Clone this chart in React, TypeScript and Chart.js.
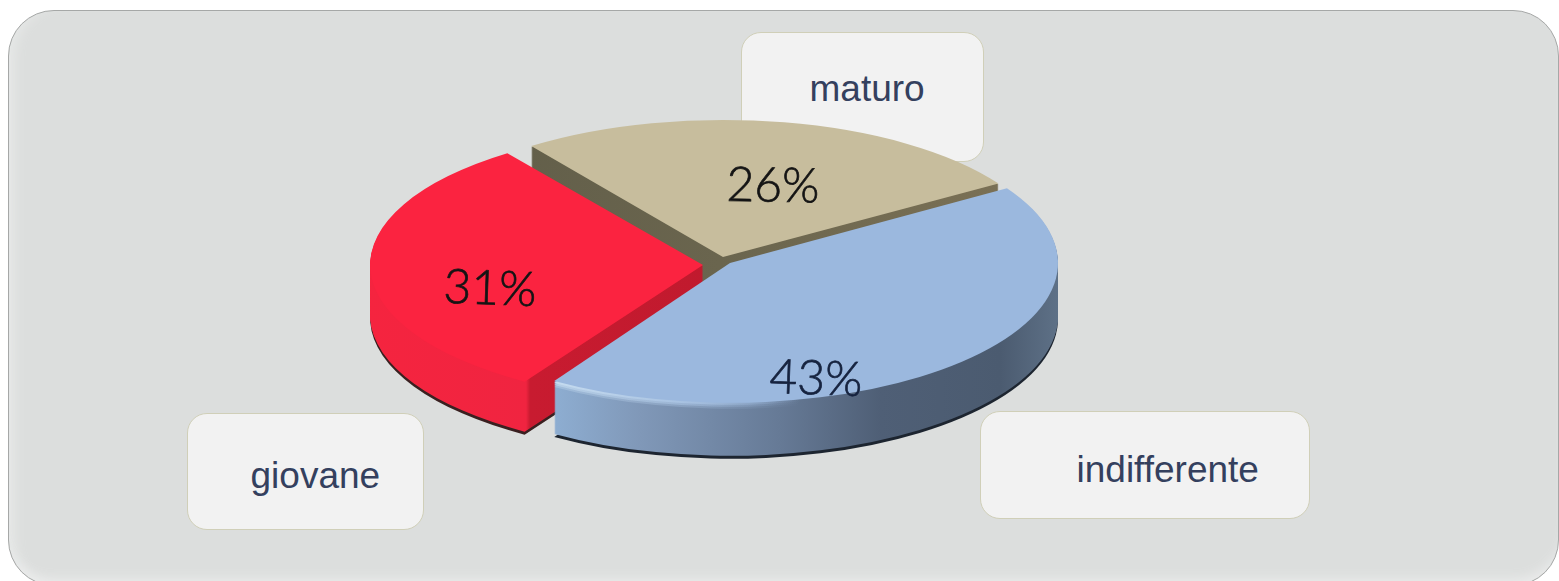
import React, { useEffect, useRef } from "react";
import { Chart, registerables } from "chart.js";

Chart.register(...registerables);

const categories = ["maturo", "indifferente", "giovane"];
const shares = [26, 43, 31];
const topColors = ["#c7bd9d", "#9bb8de", "#fb2340"];

const PIE = { cx: 722, cy: 260, radius: 328, rotation: -36 };
const sliceShift = [[1, -3], [8, 3], [-19, 5]];
const sliceScale = [0.995, 1.0, 1.015];
const sliceSquash = [0.42, 0.426, 0.415];
const sliceDepth = [50, 53, 50];
const percentSpots = [
  { x: 773, y: 186, tilt: 1 },
  { x: 816, y: 379, tilt: 2 },
  { x: 490, y: 289, tilt: 2 },
];
const boxes = [
  { left: 741, top: 32, width: 243, height: 130, textX: 69, base: 69 },
  { left: 980, top: 411, width: 330, height: 108, textX: 97, base: 71 },
  { left: 187, top: 413, width: 237, height: 117, textX: 64, base: 75 },
];

const wallStops: [number, string][][] = [
  [[400, "#5f5c48"], [720, "#6a654e"], [1000, "#7a7055"]],
  [[552, "#8eaed2"], [640, "#8098b8"], [780, "#667a96"], [880, "#4f5f76"], [1000, "#4b5b70"], [1062, "#5f7288"]],
  [[370, "#f5243f"], [526, "#f02440"], [530, "#c81b30"], [710, "#c01a2e"]],
];
const rimColors = ["#6a654e", "#1d2530", "#3a2020"];

function withFill(arc: any, fill: any, draw: () => void) {
  const saved = arc.options;
  arc.options = Object.assign(Object.create(saved), { backgroundColor: fill, borderWidth: 0 });
  draw();
  arc.options = saved;
}

const pie3d = {
  id: "pie3d",
  beforeDatasetsDraw(chart: any) {
    const ctx: CanvasRenderingContext2D = chart.ctx;
    const arcs = chart.getDatasetMeta(0).data;
    const place = (arc: any, i: number, dy: number) => {
      ctx.translate(PIE.cx + sliceShift[i][0], PIE.cy + sliceShift[i][1] + dy);
      ctx.scale(sliceScale[i], sliceSquash[i] * sliceScale[i]);
      ctx.translate(-arc.x, -arc.y);
    };
    const toArc = (arc: any, i: number, px: number) =>
      (px - PIE.cx - sliceShift[i][0]) / sliceScale[i] + arc.x;
    [0, 2, 1].forEach((i) => {
      const arc = arcs[i];
      ctx.save();
      place(arc, i, sliceDepth[i] + 3);
      withFill(arc, rimColors[i], () => arc.draw(ctx));
      ctx.restore();
      const fill = ctx.createLinearGradient(toArc(arc, i, 360), 0, toArc(arc, i, 1070), 0);
      wallStops[i].forEach(([px, c]) => fill.addColorStop((px - 360) / 710, c));
      for (let dy = sliceDepth[i]; dy >= 1; dy--) {
        ctx.save();
        place(arc, i, dy);
        withFill(arc, fill, () => arc.draw(ctx));
        ctx.restore();
      }
      if (i === 1) {
        [[6, 0.35], [4, 0.6], [2, 1]].forEach(([dy, alpha]) => {
          const g = ctx.createLinearGradient(toArc(arc, i, 552), 0, toArc(arc, i, 800), 0);
          g.addColorStop(0, "#c6dcf0");
          g.addColorStop(0.5, "#a9c3e2");
          g.addColorStop(1, "rgba(155,184,222,0)");
          ctx.save();
          ctx.globalAlpha = alpha;
          place(arc, i, dy);
          withFill(arc, g, () => arc.draw(ctx));
          ctx.restore();
        });
      }
      ctx.save();
      place(arc, i, 0);
      arc.draw(ctx);
      ctx.restore();
    });
    return false;
  },
  afterDraw(chart: any) {
    const ctx: CanvasRenderingContext2D = chart.ctx;
    ctx.save();
    ctx.font = "300 48px Lato";
    ctx.textAlign = "center";
    ctx.textBaseline = "middle";
    ctx.lineWidth = 0.7;
    shares.forEach((v, i) => {
      const s = percentSpots[i];
      ctx.save();
      ctx.translate(s.x, s.y);
      ctx.rotate((s.tilt * Math.PI) / 180);
      const ink = i === 1 ? "#16233f" : "#141414";
      ctx.fillStyle = ink;
      ctx.strokeStyle = ink;
      ctx.fillText(`${v}%`, 0, 0);
      ctx.strokeText(`${v}%`, 0, 0);
      ctx.restore();
    });
    ctx.restore();
  },
};

export default function App() {
  const ref = useRef<HTMLCanvasElement>(null);
  useEffect(() => {
    const chart = new Chart(ref.current!, {
      type: "pie",
      data: {
        labels: categories,
        datasets: [{ data: shares, backgroundColor: topColors, borderWidth: 0 }],
      },
      options: {
        animation: false,
        responsive: false,
        rotation: PIE.rotation,
        radius: PIE.radius,
        events: [],
        layout: { padding: 0 },
        plugins: { legend: { display: false }, tooltip: { enabled: false } },
      },
      plugins: [pie3d],
    } as any);
    return () => chart.destroy();
  }, []);
  return (
    <div style={{ position: "fixed", inset: 0, background: "#fff", overflow: "hidden" }}>
      <div
        style={{
          position: "absolute",
          left: 8,
          top: 10,
          width: 1551,
          height: 576,
          boxSizing: "border-box",
          borderRadius: 46,
          background: "#dcdedd",
          border: "1.5px solid #a6a8a7",
          boxShadow: "inset 0 -14px 12px -8px #ebecec, inset 14px 0 12px -8px #e6e8e7",
        }}
      />
      {boxes.map((b, i) => (
        <div
          key={categories[i]}
          style={{
            position: "absolute",
            left: b.left,
            top: b.top,
            width: b.width,
            height: b.height,
            boxSizing: "border-box",
            borderRadius: 20,
            background: "#f2f2f2",
            border: "1.5px solid #d0cfb8",
          }}
        >
          <span
            style={{
              position: "absolute",
              left: b.textX - 1.5,
              top: b.base - 34,
              font: "37px/42px 'Liberation Sans'",
              color: "#34405e",
              whiteSpace: "nowrap",
            }}
          >
            {categories[i]}
          </span>
        </div>
      ))}
      <canvas
        ref={ref}
        width={1559}
        height={581}
        style={{ position: "absolute", left: 0, top: 0, width: 1559, height: 581 }}
      />
    </div>
  );
}
